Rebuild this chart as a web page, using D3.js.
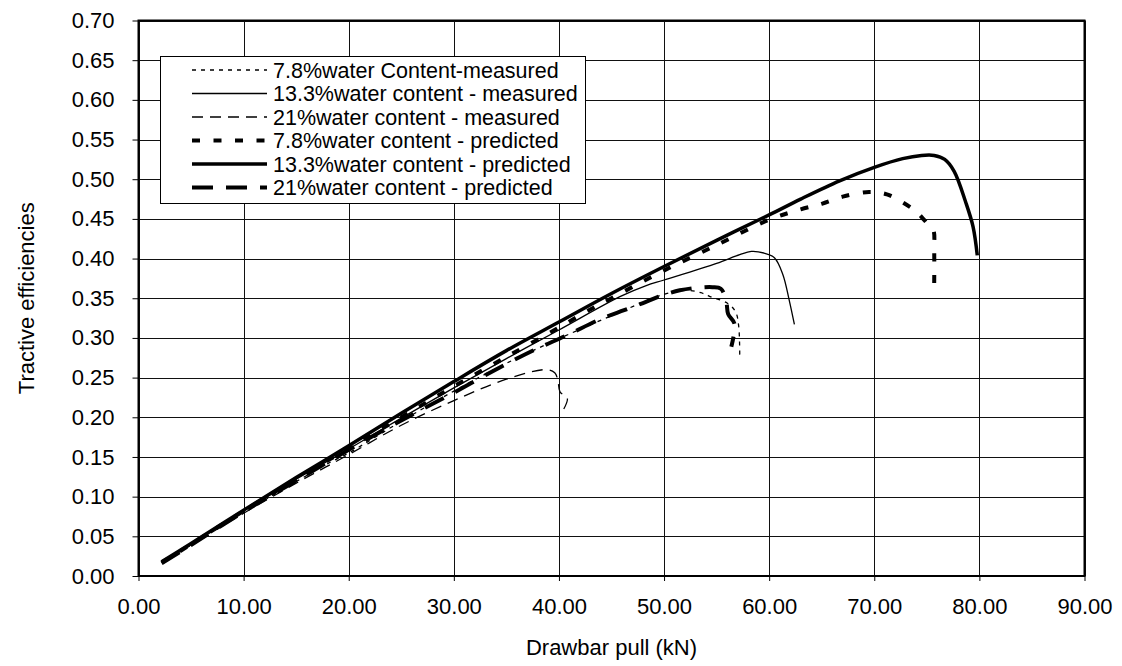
<!DOCTYPE html>
<html>
<head>
<meta charset="utf-8">
<script src="https://cdn.jsdelivr.net/npm/d3@7"></script>
<style>
  html, body { margin: 0; padding: 0; background: #fff; }
  svg { display: block; font-family: "Liberation Sans", Arial, sans-serif; }
</style>
</head>
<body>
<div id="chart"></div>
<script>
// Tractive efficiency vs drawbar pull
const xTicks = [0, 10, 20, 30, 40, 50, 60, 70, 80, 90];
const yTicks = [0, 0.05, 0.10, 0.15, 0.20, 0.25, 0.30, 0.35, 0.40, 0.45, 0.50, 0.55, 0.60, 0.65, 0.70];

const meas78 = [[2.5,0.019],[5,0.04],[10,0.08],[15,0.119],[18.2,0.143],[20,0.155],[25,0.195],[30,0.233],[35,0.268],[40,0.299],[45,0.328],[50,0.355],[52,0.36],[53.5,0.357],[54.6,0.351],[56,0.344],[56.8,0.333],[57.1,0.315],[57.2,0.276]];
const meas133 = [[2.5,0.02],[5,0.041],[10,0.082],[15,0.122],[20,0.16],[25,0.199],[30,0.237],[35,0.274],[40,0.31],[45.8,0.352],[48.3,0.366],[50,0.373],[55,0.394],[57.2,0.405],[58.3,0.409],[59.5,0.407],[60.5,0.401],[61.3,0.38],[61.9,0.348],[62.4,0.317]];
const meas21 = [[2.5,0.019],[5,0.039],[10,0.079],[15,0.117],[20,0.153],[25,0.19],[30,0.221],[35,0.248],[38.8,0.26],[39.6,0.256],[39.9,0.247],[40.1,0.232],[40.8,0.224],[40.4,0.209]];
const pred78 = [[2.2,0.017],[5,0.04],[10,0.082],[15,0.122],[20,0.161],[25,0.2],[30,0.239],[35,0.276],[40,0.313],[42.6,0.333],[45,0.35],[49.4,0.381],[55,0.417],[60,0.449],[63,0.462],[65,0.469],[67,0.478],[69.5,0.484],[71.2,0.481],[72.8,0.47],[74,0.459],[75,0.445],[75.6,0.437],[75.7,0.41],[75.7,0.368]];
const pred133 = [[2.2,0.018],[5,0.041],[10,0.083],[15,0.124],[20,0.164],[25,0.205],[30,0.245],[35,0.284],[40,0.32],[45,0.356],[50,0.39],[55,0.423],[60,0.455],[63,0.475],[66.7,0.498],[70,0.515],[72.7,0.526],[74.5,0.53],[75.7,0.53],[76.7,0.525],[77.6,0.51],[78.7,0.471],[79.4,0.44],[79.8,0.404]];
const pred21 = [[2.2,0.016],[5,0.039],[10,0.081],[15,0.12],[20,0.159],[25,0.196],[30,0.231],[33.7,0.258],[36,0.274],[38,0.287],[40.7,0.303],[44,0.324],[46.2,0.335],[48,0.344],[49.7,0.353],[51.5,0.36],[53,0.363],[54.6,0.364],[55.4,0.362],[55.9,0.348],[56.1,0.33],[56.7,0.318],[56.4,0.289]];

const legendLabels = [
  '7.8%water Content-measured',
  '13.3%water content - measured',
  '21%water content - measured',
  '7.8%water content - predicted',
  '13.3%water content - predicted',
  '21%water content - predicted'
];

const series = [
  { data: meas78, width: 1.3, dash: '4,5' },
  { data: meas133, width: 1.3, dash: null },
  { data: meas21, width: 1.3, dash: '11,7' },
  { data: pred78, width: 4, dash: '8,13.5' },
  { data: pred133, width: 3.5, dash: null },
  { data: pred21, width: 4, dash: '21,13' }
];

const W = 1122, H = 666;
const plot = { left: 138.5, right: 1084.5, top: 20.5, bottom: 576 };

const svg = d3.select('#chart').append('svg')
  .attr('width', W).attr('height', H);

const x = d3.scaleLinear().domain([0, 90]).range([plot.left, plot.right]);
const y = d3.scaleLinear().domain([0, 0.7]).range([plot.bottom, plot.top]);

// grid
const grid = svg.append('g');
grid.selectAll('.hg').data(yTicks).enter().append('line')
  .attr('x1', plot.left).attr('x2', plot.right)
  .attr('y1', d => Math.round(y(d)) + 0.5).attr('y2', d => Math.round(y(d)) + 0.5)
  .attr('stroke', '#111').attr('stroke-width', 1);
grid.selectAll('.vg').data(xTicks).enter().append('line')
  .attr('y1', plot.top).attr('y2', plot.bottom)
  .attr('x1', d => Math.round(x(d)) + 0.5).attr('x2', d => Math.round(x(d)) + 0.5)
  .attr('stroke', '#111').attr('stroke-width', 1);

// axes
const fmt = d3.format('.2f');
const yAxis = svg.append('g')
  .attr('transform', `translate(${plot.left},0)`)
  .call(d3.axisLeft(y).tickValues(yTicks).tickFormat(fmt).tickSize(6).tickPadding(18));
const xAxis = svg.append('g')
  .attr('transform', `translate(0,${plot.bottom})`)
  .call(d3.axisBottom(x).tickValues(xTicks).tickFormat(fmt).tickSize(5).tickPadding(17));
[yAxis, xAxis].forEach(a => {
  a.select('.domain').remove();
  a.selectAll('text').attr('fill', '#000').style('font-size', '22px');
  a.selectAll('line').attr('stroke', '#000');
});

// plot frame
svg.append('rect')
  .attr('x', plot.left).attr('y', plot.top)
  .attr('width', plot.right - plot.left).attr('height', plot.bottom - plot.top)
  .attr('fill', 'none').attr('stroke', '#000').attr('stroke-width', 2);

// series
const line = d3.line()
  .x(d => x(d[0])).y(d => y(d[1]))
  .curve(d3.curveCatmullRom.alpha(0.5));

svg.append('g').selectAll('path').data(series).enter().append('path')
  .attr('d', d => line(d.data))
  .attr('fill', 'none')
  .attr('stroke', '#000')
  .attr('stroke-width', d => d.width)
  .attr('stroke-dasharray', d => d.dash);

// legend
const lg = svg.append('g');
lg.append('rect')
  .attr('x', 160.5).attr('y', 56.5).attr('width', 425).attr('height', 147)
  .attr('fill', '#fff').attr('stroke', '#000').attr('stroke-width', 1);
const rows = lg.selectAll('.row').data(series).enter().append('g')
  .attr('transform', (d, i) => `translate(0,${70 + i * 23.5})`);
rows.append('line')
  .attr('x1', 192).attr('x2', 267).attr('y1', 0).attr('y2', 0)
  .attr('stroke', '#000')
  .attr('stroke-width', d => d.width)
  .attr('stroke-dasharray', d => d.dash);
rows.append('text')
  .attr('x', 273).attr('dy', '0.36em')
  .style('font-size', '21.5px')
  .text((d, i) => legendLabels[i]);

// axis titles
svg.append('text')
  .attr('x', (plot.left + plot.right) / 2).attr('y', 655)
  .attr('text-anchor', 'middle').style('font-size', '22px')
  .text('Drawbar pull (kN)');
svg.append('text')
  .attr('transform', `translate(34,${(plot.top + plot.bottom) / 2}) rotate(-90)`)
  .attr('text-anchor', 'middle').style('font-size', '22px')
  .text('Tractive efficiencies');
</script>
</body>
</html>
